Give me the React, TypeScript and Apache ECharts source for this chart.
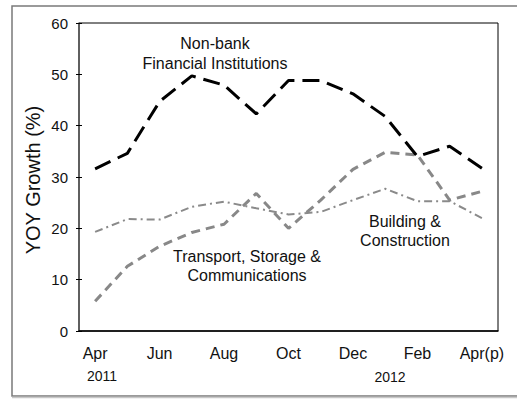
import React, { useEffect, useRef } from "react";
import * as echarts from "echarts";

const months = ["Apr", "May", "Jun", "Jul", "Aug", "Sep", "Oct", "Nov", "Dec", "Jan", "Feb", "Mar", "Apr(p)"];
const nonBank = [31.6, 34.6, 44.7, 49.7, 47.9, 42.3, 48.8, 48.8, 46.2, 41.8, 34.0, 36.0, 31.7];
const transport = [5.8, 12.6, 16.5, 19.2, 20.8, 26.8, 20.0, 25.5, 31.5, 34.8, 34.3, 25.5, 27.2];
const building = [19.3, 21.8, 21.7, 24.2, 25.2, 23.9, 22.7, 23.2, 25.5, 27.7, 25.3, 25.3, 22.0];
const yTicks = { min: 0, max: 60, interval: 10 };
const yearLabels = ["2011", "2012"];

const FONT = "'Liberation Sans', Arial, sans-serif";

export default function App() {
  const ref = useRef<HTMLDivElement>(null);
  useEffect(() => {
    if (!ref.current) return;
    const chart = echarts.init(ref.current, null, { renderer: "svg" });
    chart.setOption({
      animation: false,
      backgroundColor: "#ffffff",
      textStyle: { fontFamily: FONT },
      grid: { left: 79, right: 19, top: 23, bottom: 70, show: true, borderColor: "#000", borderWidth: 1 },
      xAxis: [
        {
          type: "category",
          data: months,
          boundaryGap: true,
          axisLine: { lineStyle: { color: "#000", width: 1.5 } },
          axisTick: { alignWithLabel: true, length: 4, inside: false, lineStyle: { color: "#000" } },
          axisLabel: {
            interval: 0,
            margin: 14,
            fontSize: 16,
            color: "#111",
            fontFamily: FONT,
            formatter: (v: string, i: number) => (i % 2 === 0 ? v : ""),
          },
          splitLine: { show: false },
        },
        {
          type: "category",
          data: months,
          position: "bottom",
          boundaryGap: true,
          axisLine: { show: false },
          axisTick: { alignWithLabel: true, length: 4, inside: true, lineStyle: { color: "#000" } },
          axisLabel: { show: false },
        },
      ],
      yAxis: [
        {
          type: "value",
          min: yTicks.min,
          max: yTicks.max,
          interval: yTicks.interval,
          axisLine: { show: true, lineStyle: { color: "#555", width: 1.5 } },
          axisTick: { show: true, length: 3, lineStyle: { color: "#000" } },
          axisLabel: { margin: 11, fontSize: 15, color: "#111", fontFamily: FONT },
          splitLine: { show: false },
        },
        {
          type: "value",
          position: "left",
          min: yTicks.min,
          max: yTicks.max,
          interval: yTicks.interval,
          axisLine: { show: false },
          axisTick: { show: true, inside: true, length: 3, lineStyle: { color: "#000" } },
          axisLabel: { show: false },
          splitLine: { show: false },
        },
      ],
      series: [
        {
          name: "Building & Construction",
          type: "line",
          data: building,
          symbol: "none",
          lineStyle: { color: "#8a8a8a", width: 2, type: [8, 4, 2, 4] },
        },
        {
          name: "Transport, Storage & Communications",
          type: "line",
          data: transport,
          symbol: "none",
          lineStyle: { color: "#888888", width: 3, type: [9, 6] },
        },
        {
          name: "Non-bank Financial Institutions",
          type: "line",
          data: nonBank,
          symbol: "none",
          lineStyle: { color: "#000000", width: 3, type: [17, 8] },
        },
      ],
      graphic: [
        {
          type: "rect",
          silent: true,
          shape: { x: 12, y: 6, width: 520, height: 390 },
          style: { fill: "none", stroke: "#7a7a7a", lineWidth: 1.5 },
        },
        {
          type: "line",
          silent: true,
          shape: { x1: 12, y1: 397.5, x2: 517, y2: 397.5 },
          style: { stroke: "#c8c8c8", lineWidth: 1.5 },
        },
        {
          type: "text",
          x: 33,
          y: 180,
          rotation: Math.PI / 2,
          style: { text: "YOY Growth (%)", font: `20px ${FONT}`, fill: "#111", align: "center", verticalAlign: "middle" },
        },
        {
          type: "text",
          x: 102,
          y: 376,
          style: { text: yearLabels[0], font: `14px ${FONT}`, fill: "#111", align: "center", verticalAlign: "middle" },
        },
        {
          type: "text",
          x: 390,
          y: 377,
          style: { text: yearLabels[1], font: `14px ${FONT}`, fill: "#111", align: "center", verticalAlign: "middle" },
        },
        {
          type: "text",
          x: 215,
          y: 53,
          style: {
            text: "Non-bank\nFinancial Institutions",
            font: `16px ${FONT}`,
            lineHeight: 20,
            fill: "#111",
            align: "center",
            verticalAlign: "middle",
          },
        },
        {
          type: "text",
          x: 247,
          y: 266,
          style: {
            text: "Transport, Storage &\nCommunications",
            font: `16px ${FONT}`,
            lineHeight: 19,
            fill: "#111",
            align: "center",
            verticalAlign: "middle",
          },
        },
        {
          type: "text",
          x: 405,
          y: 231,
          style: {
            text: "Building &\nConstruction",
            font: `16px ${FONT}`,
            lineHeight: 19,
            fill: "#111",
            align: "center",
            verticalAlign: "middle",
          },
        },
      ],
    });
    return () => chart.dispose();
  }, []);
  return <div ref={ref} style={{ position: "absolute", left: 0, top: 0, width: 517, height: 401 }} />;
}
